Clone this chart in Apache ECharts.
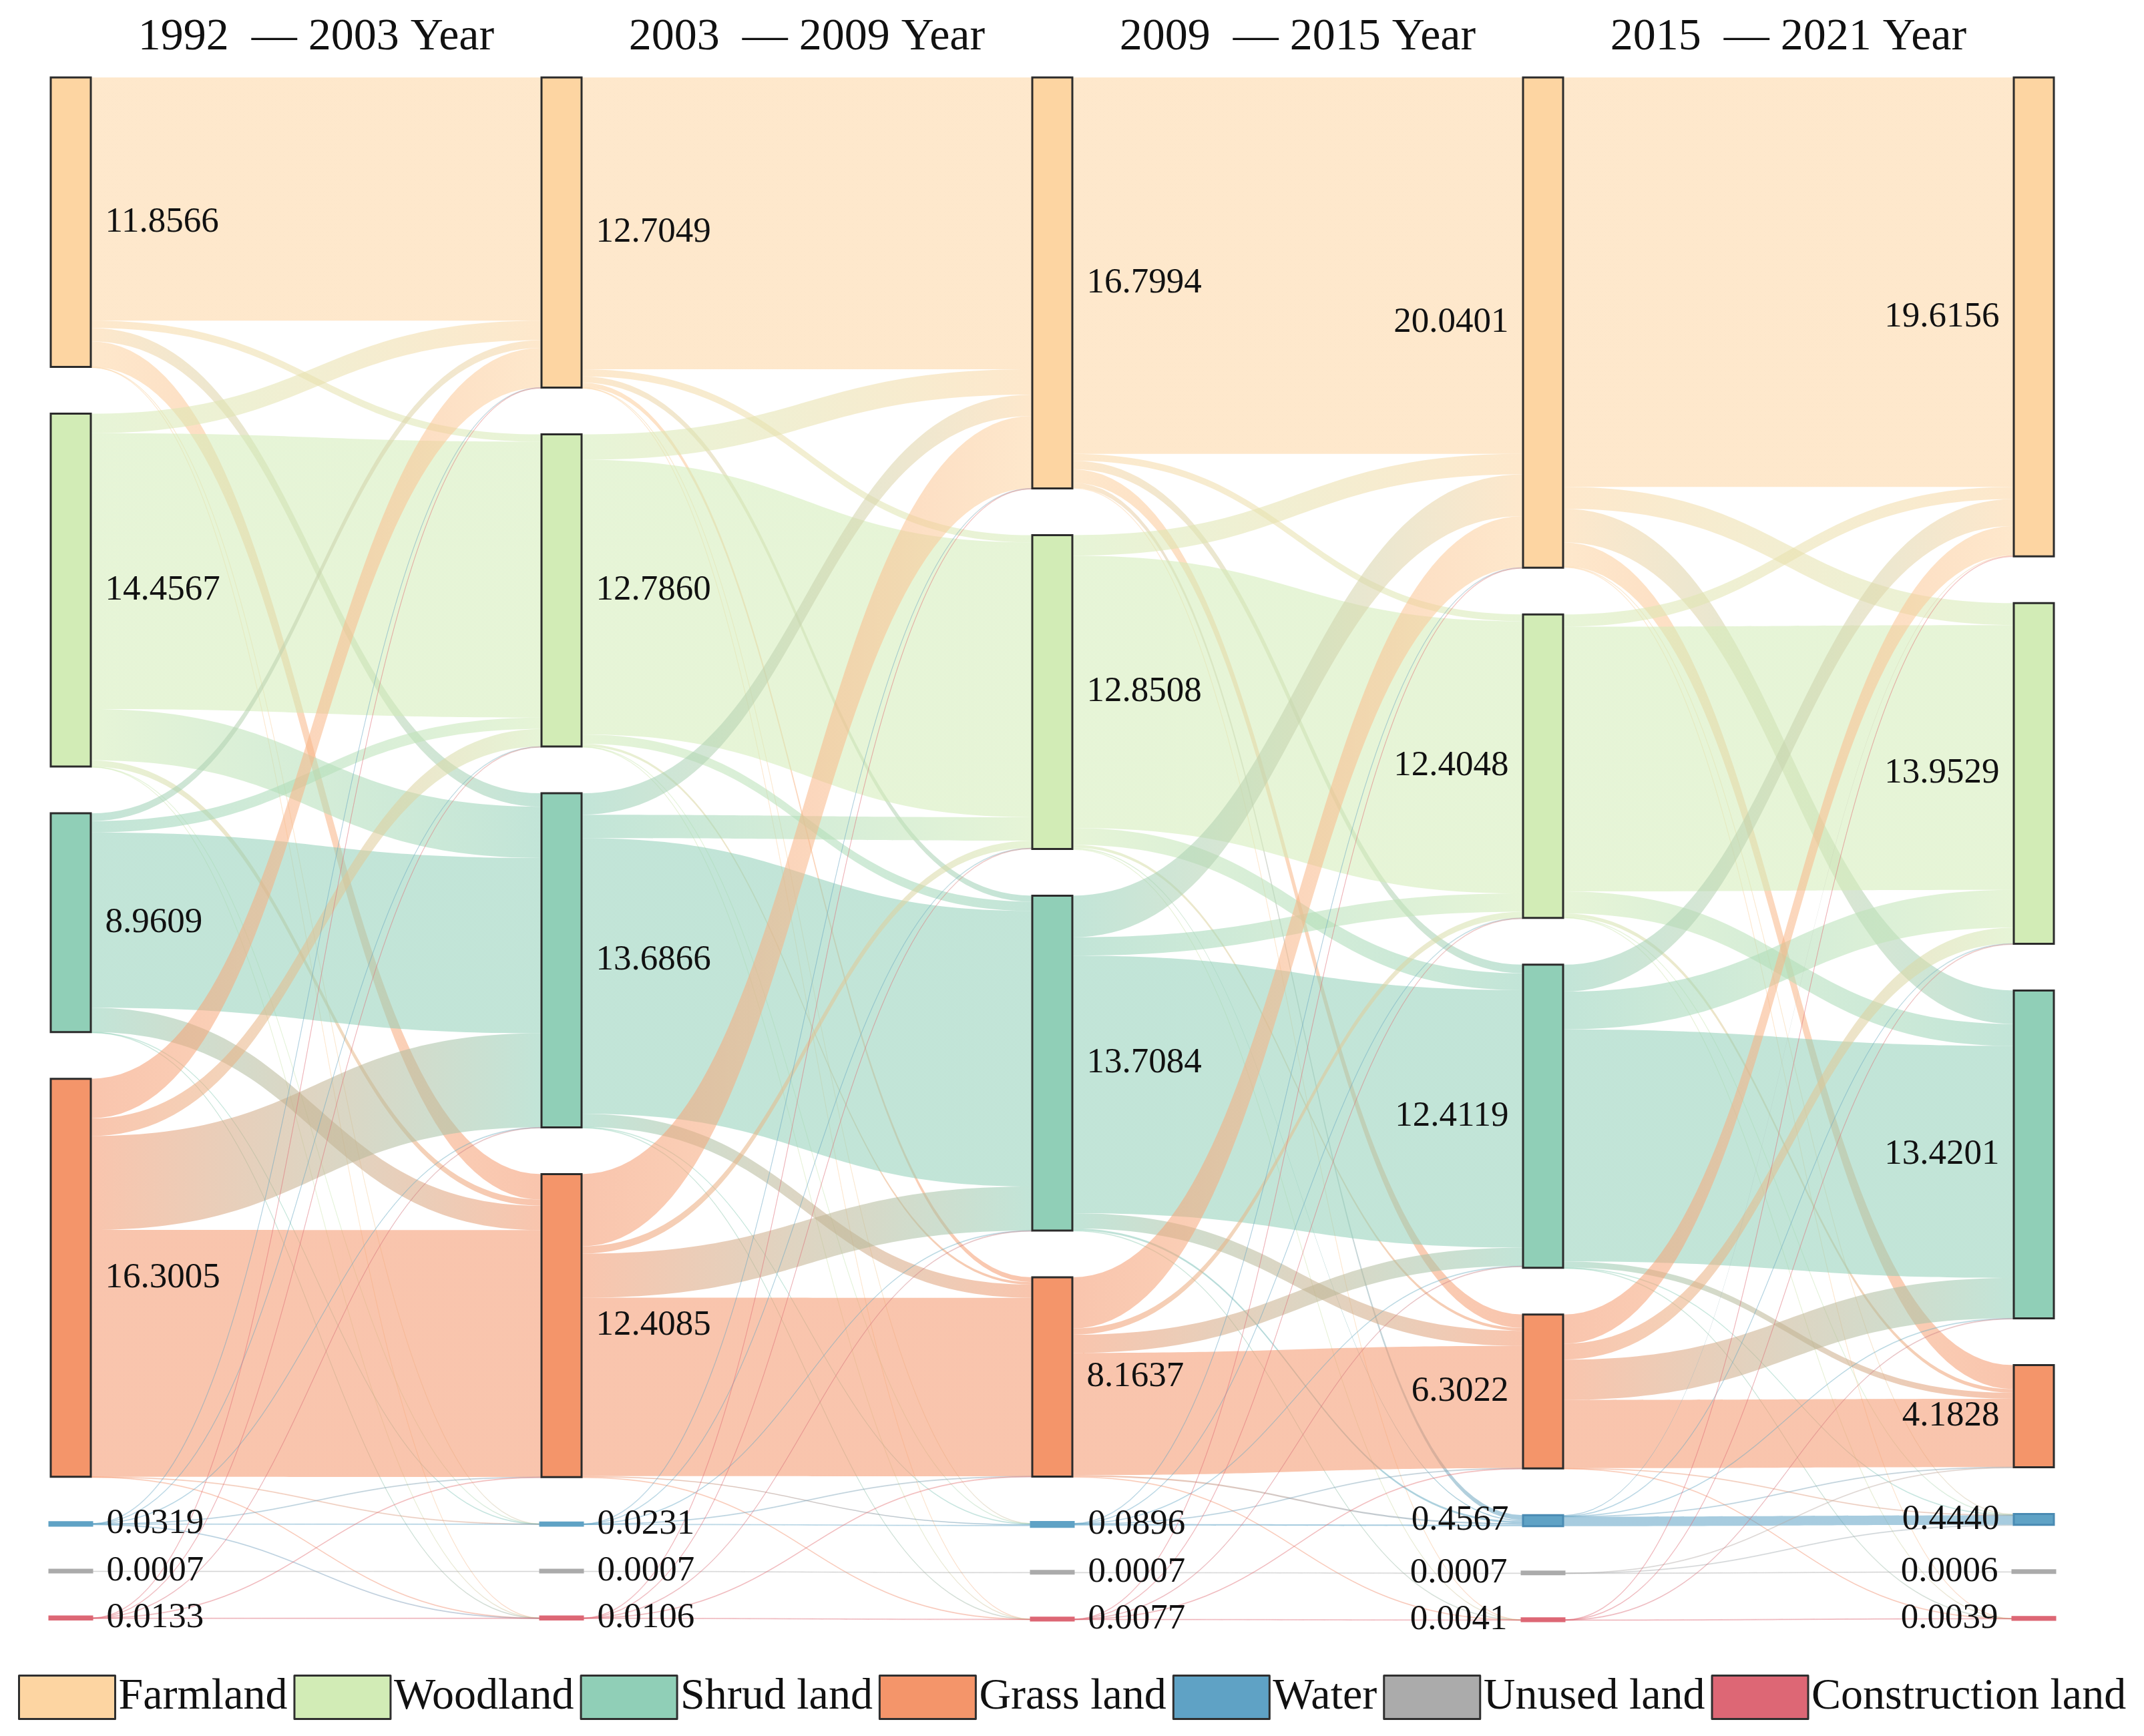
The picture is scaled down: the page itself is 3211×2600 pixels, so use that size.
<!DOCTYPE html>
<html>
<head>
<meta charset="utf-8">
<script src="https://cdn.jsdelivr.net/npm/echarts@6/dist/echarts.min.js"></script>
<style>html,body{margin:0;padding:0;background:#fff;}#chart{width:3211px;height:2600px;}</style>
</head>
<body>
<div id="chart"></div>
<script>
// ---------------- data ----------------
const categories = ['Farmland', 'Woodland', 'Shrud land', 'Grass land', 'Water', 'Unused land', 'Construction land'];
const years = ['1992', '2003', '2009', '2015', '2021'];
const periodTitles = ['1992  \u2014 2003 Year', '2003  \u2014 2009 Year', '2009  \u2014 2015 Year', '2015  \u2014 2021 Year'];
const colors = ['#FDD5A2', '#D2ECB6', '#90CFB7', '#F4956A', '#5FA2C5', '#ABABAB', '#DD6775'];

const area1992 = [11.8566, 14.4567, 8.9609, 16.3005, 0.0319, 0.0007, 0.0133];
const area2003 = [12.7049, 12.7860, 13.6866, 12.4085, 0.0231, 0.0007, 0.0106];
const area2009 = [16.7994, 12.8508, 13.7084, 8.1637, 0.0896, 0.0007, 0.0077];
const area2015 = [20.0401, 12.4048, 12.4119, 6.3022, 0.4567, 0.0007, 0.0041];
const area2021 = [19.6156, 13.9529, 13.4201, 4.1828, 0.4440, 0.0006, 0.0039];

// transfer matrices: row = from, column = to (Farmland, Woodland, Shrud, Grass, Water, Unused, Construction)
const flow1992to2003 = [
  [9.9596, 0.30, 0.55, 1.045, 0.001, 0, 0.001],
  [0.80, 11.3037, 2.10, 0.25, 0.001, 0, 0.002],
  [0.32, 0.46, 7.1793, 1.00, 0.0006, 0, 0.001],
  [1.62, 0.72, 3.85, 10.1085, 0.001, 0, 0.001],
  [0.002, 0.002, 0.005, 0.003, 0.0195, 0, 0.0002],
  [0, 0, 0, 0, 0, 0.0007, 0],
  [0.003, 0.001, 0.002, 0.002, 0, 0, 0.0053]
];
const flow2003to2009 = [
  [11.9489, 0.30, 0.25, 0.20, 0.005, 0, 0.001],
  [1.04, 11.2555, 0.38, 0.10, 0.01, 0, 0.0005],
  [0.88, 0.96, 11.2861, 0.54, 0.02, 0, 0.0005],
  [2.96, 0.30, 1.80, 7.308, 0.04, 0, 0.0005],
  [0.003, 0.002, 0.003, 0.002, 0.013, 0, 0],
  [0, 0, 0, 0, 0, 0.0007, 0],
  [0.002, 0.001, 0.001, 0.0016, 0, 0, 0.005]
];
const flow2009to2015 = [
  [15.42, 0.28, 0.35, 0.55, 0.20, 0, 0.0003],
  [0.84, 11.15, 0.69, 0.12, 0.05, 0, 0.0002],
  [1.71, 0.75, 10.55, 0.62, 0.08, 0, 0.0002],
  [2.10, 0.25, 0.75, 5.0035, 0.06, 0, 0.0003],
  [0.008, 0.004, 0.006, 0.006, 0.0656, 0, 0],
  [0, 0, 0, 0, 0, 0.0007, 0],
  [0.002, 0.001, 0.001, 0.0006, 0, 0, 0.0031]
];
const flow2015to2021 = [
  [16.7698, 0.90, 1.37, 0.98, 0.02, 0, 0.0003],
  [0.50, 10.8446, 0.90, 0.15, 0.01, 0, 0.0002],
  [1.10, 1.55, 9.5017, 0.25, 0.01, 0, 0.0002],
  [1.20, 0.65, 1.65, 2.792, 0.01, 0, 0.0002],
  [0.03, 0.01, 0.01, 0.0127, 0.394, 0, 0],
  [0, 0, 0, 0.0001, 0.0001, 0.0005, 0],
  [0.0005, 0.0003, 0.0003, 0, 0, 0, 0.003]
];

// ---------------- build options ----------------
const areas = [area1992, area2003, area2009, area2015, area2021];
const flows = [flow1992to2003, flow2003to2009, flow2009to2015, flow2015to2021];
const FONT = '"Liberation Serif", "Times New Roman", serif';

const nodes = [];
areas.forEach(function (arr, col) {
  arr.forEach(function (v, k) {
    const small = v < 0.2;
    const isWater = k === 4;
    nodes.push({
      name: categories[k] + ' ' + years[col],
      value: v,
      labelText: v.toFixed(4),
      itemStyle: {
        color: colors[k],
        borderColor: small ? colors[k] : (isWater ? '#4a8bb3' : '#2b2b2b'),
        borderWidth: small ? 7 : 3
      },
      label: { position: col >= 3 ? 'left' : 'right' }
    });
  });
});

const links = [];
flows.forEach(function (mat, t) {
  mat.forEach(function (row, i) {
    row.forEach(function (v, j) {
      if (v > 0) {
        const link = {
          source: categories[i] + ' ' + years[t],
          target: categories[j] + ' ' + years[t + 1],
          value: v
        };
        if (v < 0.03) {
          link.lineStyle = { borderColor: colors[i], borderWidth: 1, opacity: 0.3 };
        }
        links.push(link);
      }
    });
  });
});

const graphics = periodTitles.map(function (txt, i) {
  return {
    type: 'text',
    x: 76 + 60 + 337.5 + i * 735,
    y: 56,
    style: {
      text: txt,
      fontSize: 68,
      fontFamily: FONT,
      fill: '#111',
      align: 'center',
      verticalAlign: 'middle'
    }
  };
});

const option = {
  backgroundColor: '#ffffff',
  animation: false,
  graphic: graphics,
  legend: {
    left: 22,
    top: 2503,
    itemWidth: 144,
    itemHeight: 65,
    itemGap: 9,
    icon: 'rect',
    selectedMode: false,
    itemStyle: { borderColor: '#2f2f2f', borderWidth: 3 },
    textStyle: { fontSize: 66, fontFamily: FONT, color: '#111' },
    data: categories
  },
  series: [
    {
      type: 'sankey',
      left: 76,
      top: 116,
      width: 3000,
      height: 2310,
      nodeWidth: 60,
      nodeGap: 70,
      layoutIterations: 0,
      draggable: false,
      emphasis: { disabled: true },
      data: nodes,
      links: links,
      lineStyle: { color: 'gradient', opacity: 0.55, curveness: 0.5 },
      label: {
        show: true,
        position: 'right',
        distance: 20,
        fontSize: 53,
        fontFamily: FONT,
        color: '#111',
        formatter: function (p) { return p.data.labelText; }
      }
    },
    {
      type: 'pie',
      radius: 0,
      center: [-500, -500],
      silent: true,
      stillShowZeroSum: false,
      label: { show: false },
      labelLine: { show: false },
      data: categories.map(function (c, k) {
        return { name: c, value: 0, itemStyle: { color: colors[k] } };
      })
    }
  ]
};

const chart = echarts.init(document.getElementById('chart'), null, { renderer: 'canvas' });
chart.setOption(option);
</script>
</body>
</html>
